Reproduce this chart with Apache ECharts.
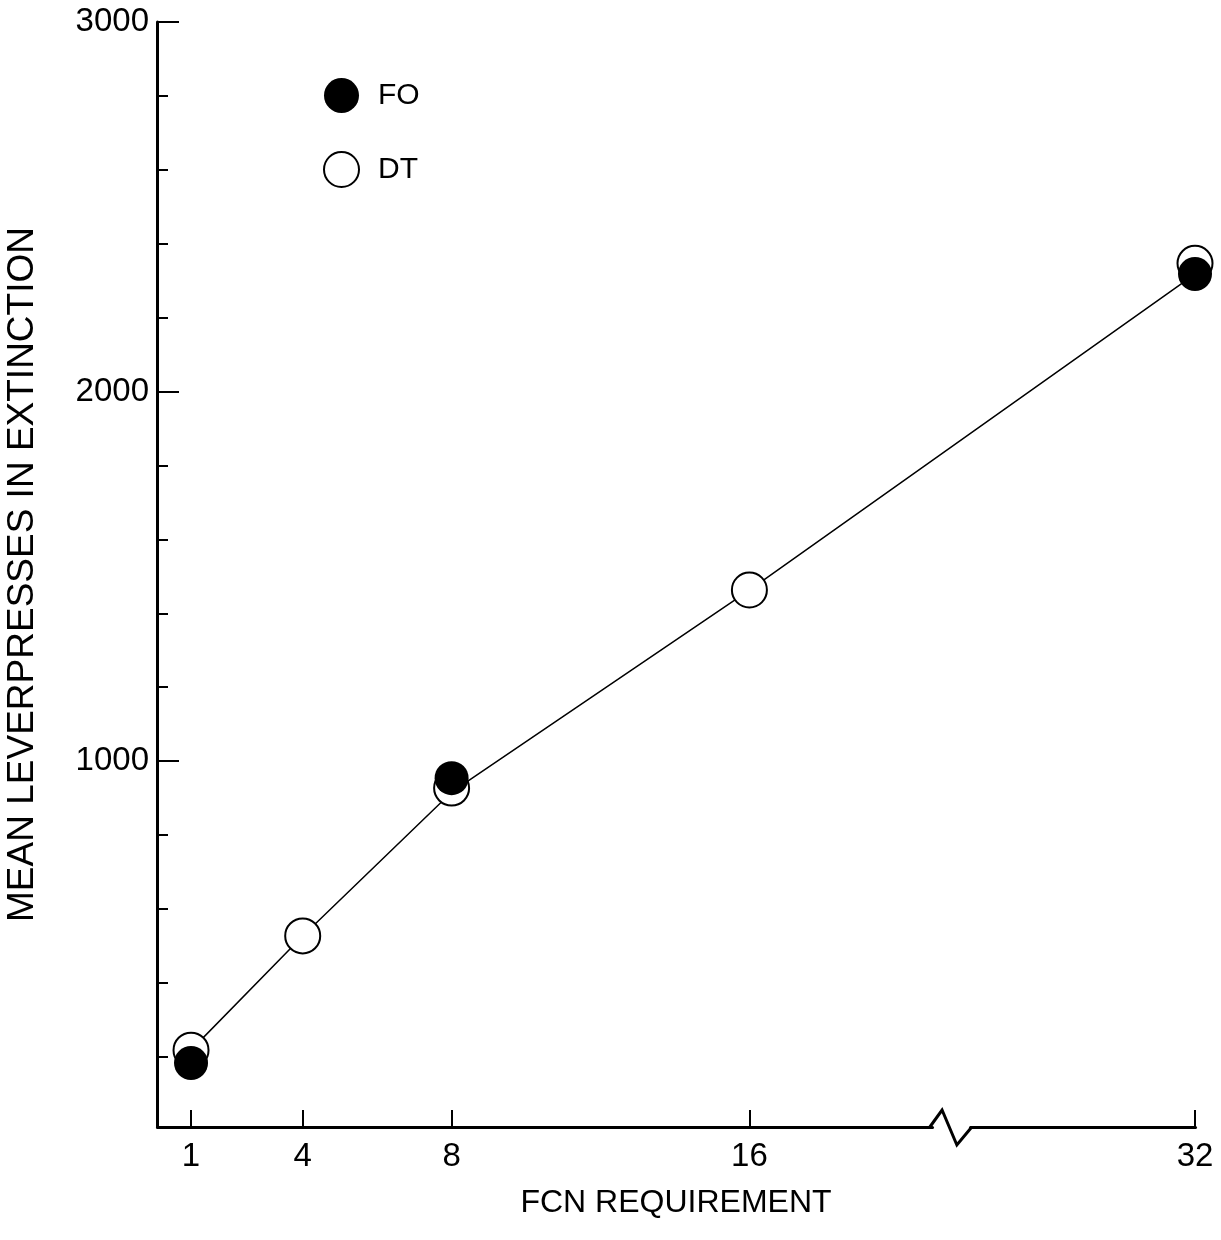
<!DOCTYPE html>
<html>
<head>
<meta charset="utf-8">
<script src="https://cdn.jsdelivr.net/npm/echarts@6/dist/echarts.min.js"></script>
<style>
  html, body { margin: 0; padding: 0; background: #fff; }
  #chart { width: 1221px; height: 1240px; }
</style>
</head>
<body>
<div id="chart"></div>
<script>
// x positions (FCN requirement) and their tick labels
const xTicks = [1, 4, 8, 16, 32]
// FO (filled circles)
const foX = [1, 8, 32]
const foY = [183, 954, 2318]
// DT (open circles)
const dtX = [1, 4, 8, 16, 32]
const dtY = [218, 527, 927, 1463, 2347]
// the drawn line
const lineX = [1, 4, 8, 16, 32]
const lineY = [218, 527, 916, 1463, 2318]
// y ticks
const yMajor = [1000, 2000, 3000]
const yMinor = [200, 400, 600, 800, 1200, 1400, 1600, 1800, 2200, 2400, 2600, 2800]
// axis break on x
const xBreak = { start: 20.9, end: 25.95, gap: 1.02 }

const font = '"Liberation Sans", Arial, sans-serif'
const chart = echarts.init(document.getElementById('chart'))

const option = {
  backgroundColor: '#fff',
  animation: false,
  grid: { left: 157, right: 26, top: 22, bottom: 113, outerBoundsMode: 'none', containLabel: false },
  legend: {
    orient: 'vertical',
    left: 318,
    top: 73,
    itemWidth: 35,
    itemHeight: 35,
    itemGap: 38,
    data: ['FO', 'DT'],
    textStyle: { fontSize: 30, color: '#000', fontFamily: font, padding: [0, 0, 0, 14] }
  },
  xAxis: {
    type: 'value',
    min: 0.086,
    max: 32,
    breaks: [xBreak],
    breakArea: { show: false },
    axisLine: { lineStyle: { color: '#000', width: 3 } },
    axisTick: { inside: true, length: 17, lineStyle: { color: '#000', width: 2 }, customValues: xTicks },
    axisLabel: { customValues: xTicks, fontSize: 33, color: '#000', fontFamily: font, margin: 13, formatter: v => String(v) },
    splitLine: { show: false },
    name: 'FCN REQUIREMENT',
    nameLocation: 'middle',
    nameGap: 60,
    nameTextStyle: { fontSize: 32, color: '#000', fontFamily: font }
  },
  yAxis: [
    {
      type: 'value',
      min: 10,
      max: 3000,
      axisLine: { show: true, lineStyle: { color: '#000', width: 3 } },
      axisTick: { inside: true, length: 22, lineStyle: { color: '#000', width: 2 }, customValues: yMajor },
      axisLabel: { customValues: yMajor, fontSize: 33, color: '#000', fontFamily: font, margin: 8, formatter: v => String(v) },
      splitLine: { show: false },
      name: 'MEAN LEVERPRESSES IN EXTINCTION',
      nameLocation: 'middle',
      nameGap: 116,
      nameTextStyle: { fontSize: 37, color: '#000', fontFamily: font }
    },
    {
      type: 'value',
      min: 10,
      max: 3000,
      position: 'left',
      axisLine: { show: false },
      axisTick: { inside: true, length: 11, lineStyle: { color: '#000', width: 2 }, customValues: yMinor },
      axisLabel: { show: false },
      splitLine: { show: false }
    }
  ],
  series: [
    {
      name: 'line',
      type: 'line',
      data: lineX.map((x, i) => [x, lineY[i]]),
      showSymbol: false,
      lineStyle: { color: '#000', width: 1.5 },
      z: 1
    },
    {
      name: 'DT',
      type: 'scatter',
      data: dtX.map((x, i) => [x, dtY[i]]),
      symbol: 'circle',
      symbolSize: 35,
      itemStyle: { color: '#fff', borderColor: '#000', borderWidth: 2, opacity: 1 },
      z: 2
    },
    {
      name: 'FO',
      type: 'scatter',
      data: foX.map((x, i) => [x, foY[i]]),
      symbol: 'circle',
      symbolSize: 34,
      itemStyle: { color: '#000', opacity: 1 },
      z: 3
    }
  ]
}
chart.setOption(option)

// zigzag mark on the axis line where it is broken
const x0 = chart.convertToPixel({ xAxisIndex: 0 }, xBreak.start)
const x1 = chart.convertToPixel({ xAxisIndex: 0 }, xBreak.end)
const y0 = chart.convertToPixel({ yAxisIndex: 0 }, 10)
const w = x1 - x0
chart.setOption({
  graphic: [{
    type: 'polyline',
    shape: { points: [[x0 - 2, y0], [x0 + w * 0.27, y0 - 17], [x0 + w * 0.66, y0 + 18], [x1 + 2, y0]] },
    style: { stroke: '#000', lineWidth: 3, fill: null },
    z: 10
  }]
})
</script>
</body>
</html>
